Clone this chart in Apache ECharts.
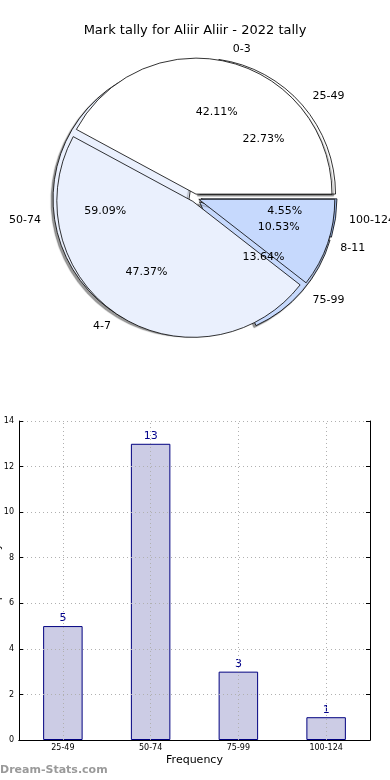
<!DOCTYPE html>
<html><head><meta charset="utf-8">
<script src="https://cdn.jsdelivr.net/npm/echarts@6/dist/echarts.min.js"></script>
<style>html,body{margin:0;padding:0;background:#fff}#c{width:390px;height:780px}</style>
</head><body><div id="c"></div>
<script>
const chartTitle = 'Mark tally for Aliir Aliir - 2022 tally';
const pieTopNames = ['0-3', '4-7', '8-11'];
const pieTopValues = [8, 9, 2];
const pieBackNames = ['25-49', '50-74', '75-99', '100-124'];
const pieBackValues = [5, 13, 3, 1];
const pieColors = ['#ffffff', '#eaf0fd', '#c6d9fd', '#a9c6fb'];
const barCategories = ['25-49', '50-74', '75-99', '100-124'];
const barValues = [5, 13, 3, 1];
const yMin = 0, yMax = 14, yStep = 2;
const xAxisName = 'Frequency';
const yAxisName = 'Disposal Tally';
const watermark = 'Dream-Stats.com';

const FONT = 'DejaVu Sans';
const R = 136;
const CENTER = [195, 198];

function sum(a) { return a.reduce((s, v) => s + v, 0); }

function coloredPie(names, values, z, shadow, offset) {
  const style = { borderColor: '#000', borderWidth: 0.8 };
  if (shadow) Object.assign(style, { shadowColor: 'rgba(0,0,0,0.4)', shadowBlur: 1, shadowOffsetX: -2, shadowOffsetY: 2 });
  return {
    type: 'pie', z: z, center: CENTER, radius: [0, R],
    startAngle: 0, clockwise: false, avoidLabelOverlap: false,
    selectedMode: 'multiple', selectedOffset: offset,
    animation: false, silent: true,
    emphasis: { disabled: true },
    itemStyle: style,
    select: { itemStyle: style },
    label: { show: true, position: 'outside', formatter: '{b}', fontFamily: FONT, fontSize: 11,
      color: '#000', distanceToLabelLine: 0, alignTo: 'none' },
    labelLine: { show: false, length: R * 0.1, length2: 0 },
    data: names.map((n, i) => ({ name: n, value: values[i], selected: true,
      itemStyle: { color: pieColors[i] } }))
  };
}

function pctPie(names, values, z, offset) {
  const total = sum(values);
  return {
    type: 'pie', z: z, center: CENTER, radius: [R * 0.2, R],
    startAngle: 0, clockwise: false, avoidLabelOverlap: false,
    selectedMode: 'multiple', selectedOffset: offset,
    animation: false, silent: true,
    emphasis: { disabled: true },
    itemStyle: { color: 'rgba(0,0,0,0)', borderWidth: 0 },
    label: { show: true, position: 'inside', fontFamily: FONT, fontSize: 11, color: '#000',
      formatter: p => (p.value / total * 100).toFixed(2) + '%' },
    labelLine: { show: false },
    data: names.map((n, i) => ({ name: n, value: values[i], selected: true }))
  };
}

const chart = echarts.init(document.getElementById('c'), null, { renderer: 'canvas' });
chart.setOption({
  animation: false,
  backgroundColor: '#fff',
  title: { text: chartTitle, left: 'center', top: 19,
    textStyle: { fontFamily: FONT, fontSize: 13, fontWeight: 'normal', color: '#000' } },
  graphic: [{ type: 'text', left: 0, top: 765,
    style: { text: watermark, fontFamily: FONT, fontSize: 11, fontWeight: 'bold', fill: '#9a9a9a' } }],
  grid: { left: 19, right: 20, top: 421, bottom: 40, outerBoundsMode: 'none', containLabel: false },
  xAxis: [{
    type: 'category', data: barCategories, position: 'bottom', z: 3,
    axisLine: { lineStyle: { color: '#000', width: 1 } },
    axisTick: { inside: true, alignWithLabel: true, length: 4, lineStyle: { color: '#000' } },
    axisLabel: { fontFamily: FONT, fontSize: 8, color: '#000', margin: 4 },
    splitLine: { show: false },
    name: xAxisName, nameLocation: 'middle', nameGap: 15,
    nameTextStyle: { fontFamily: FONT, fontSize: 11, color: '#000' }
  }, {
    type: 'category', data: barCategories, position: 'top', z: 3,
    axisLine: { lineStyle: { color: '#000', width: 1 } },
    axisTick: { inside: true, alignWithLabel: true, length: 4, lineStyle: { color: '#000' } },
    axisLabel: { show: false }, splitLine: { show: false }
  }],
  yAxis: [{
    type: 'value', min: yMin, max: yMax, interval: yStep, position: 'left', z: 3,
    axisLine: { show: true, lineStyle: { color: '#000', width: 1 } },
    axisTick: { show: true, inside: true, length: 4, lineStyle: { color: '#000' } },
    axisLabel: { fontFamily: FONT, fontSize: 8, color: '#000', margin: 5 },
    splitLine: { show: true, lineStyle: { color: '#b0b0b0', type: [1, 3], width: 1 } },
    name: yAxisName, nameLocation: 'middle', nameGap: 16, nameRotate: 90, nameMoveOverlap: false,
    nameTextStyle: { fontFamily: FONT, fontSize: 11, color: '#000' }
  }, {
    type: 'value', min: yMin, max: yMax, interval: yStep, position: 'right', z: 3,
    axisLine: { show: true, lineStyle: { color: '#000', width: 1 } },
    axisTick: { show: true, inside: true, length: 4, lineStyle: { color: '#000' } },
    axisLabel: { show: false }, splitLine: { show: false }
  }],
  series: [
    coloredPie(pieBackNames, pieBackValues, 2, true, 6),
    coloredPie(pieTopNames, pieTopValues, 3, false, 4),
    pctPie(pieBackNames, pieBackValues, 4, 6),
    pctPie(pieTopNames, pieTopValues, 4, 4),
    {
      type: 'bar', xAxisIndex: 0, yAxisIndex: 0, data: barValues, barWidth: '45%', z: 2,
      itemStyle: { color: '#ccccE5', borderColor: '#000080', borderWidth: 1 },
      label: { show: true, position: 'top', distance: 2, fontFamily: FONT, fontSize: 11, color: '#00008b' },
      emphasis: { disabled: true }, silent: true,
      markLine: { silent: true, symbol: 'none', animation: false, label: { show: false },
        lineStyle: { color: '#b0b0b0', type: [1, 3], width: 1 },
        data: barCategories.map(c => ({ xAxis: c })) }
    }
  ]
});
</script></body></html>
